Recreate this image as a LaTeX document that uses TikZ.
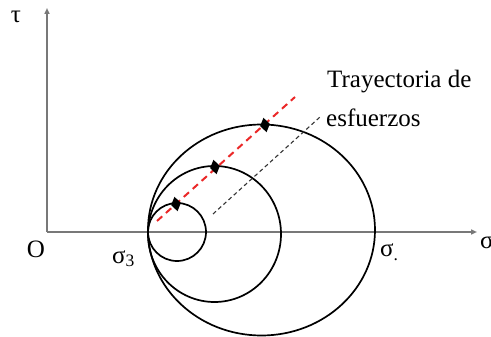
\documentclass[tikz,border=0pt]{standalone}
\usepackage{fontspec}
\setmainfont{Liberation Serif}
\usetikzlibrary{shapes.geometric,arrows.meta}
\definecolor{axisgray}{RGB}{120,120,120}
\definecolor{trayred}{RGB}{235,40,40}
\tikzset{
  axisline/.style={draw=axisgray,line width=2pt,-{Triangle[length=6pt,width=5pt]}},
  mohr/.style={draw=black,line width=1.7pt},
  stressmark/.style={diamond,fill=black,inner sep=0pt,minimum width=10pt,minimum height=15pt,rotate=12},
  redpath/.style={draw=trayred,line width=2pt,dash pattern=on 7pt off 5pt},
  blackpath/.style={draw=black!80,line width=1.1pt,dash pattern=on 4pt off 3pt},
  lbl/.style={font=\fontsize{25}{30}\selectfont,inner sep=0pt}
}
\begin{document}
\begin{tikzpicture}[x=1pt,y=-1pt]
\useasboundingbox (0,0) rectangle (491,337);
\clip (0,0) rectangle (491,337);
\fill[white] (0,0) rectangle (491,337);
% axes
\coordinate (O) at (47,232);
\coordinate (tauend) at (47,8);
\coordinate (sigend) at (477,232);
\draw[axisline] (O) -- (tauend);
\draw[axisline] (O) -- (sigend);
% Mohr circles
\draw[mohr] (177,232) circle[radius=29];
\draw[mohr] (214.5,234) ellipse[x radius=66.5,y radius=68];
\draw[mohr] (261.5,230) ellipse[x radius=113.5,y radius=105.5];
% stress paths
\coordinate (r1) at (157,221);
\coordinate (r2) at (295,97);
\draw[redpath] (r1) -- (r2);
\coordinate (b1) at (213,214);
\coordinate (b2) at (320,117);
\draw[blackpath] (b1) -- (b2);
% points
\node[stressmark] (p1) at (176,204) {};
\node[stressmark] (p2) at (215,167) {};
\node[stressmark] (p3) at (265,125) {};
% labels
\node[lbl] (tau) at (16,17) {τ};
\node[lbl] (olab) at (36,249) {O};
\node[lbl,anchor=base west] (s3) at (112,263) {σ\textsubscript{3}};
\node[lbl,anchor=base west] (s1) at (380,257) {σ\textsubscript{.}};
\node[lbl,anchor=base west] (sig) at (480,248) {σ};
\node[lbl,anchor=base west] (t1) at (327,88) {Trayectoria de};
\node[lbl,anchor=base west] (t2) at (326,127) {esfuerzos};
\end{tikzpicture}
\end{document}
